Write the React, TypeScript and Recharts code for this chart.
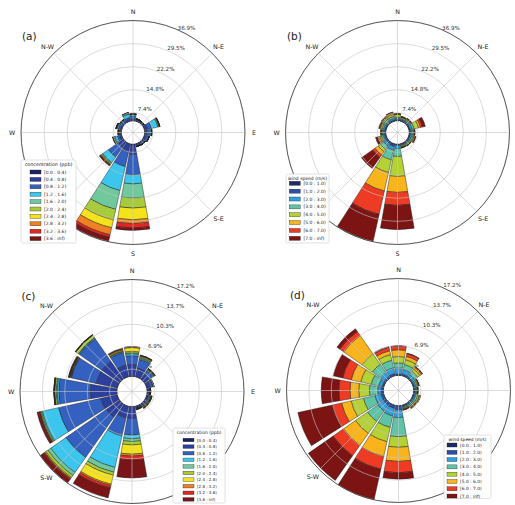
import React from 'react';
import {
  RadialBarChart,
  RadialBar,
  PolarAngleAxis,
  PolarRadiusAxis,
  PolarGrid,
} from 'recharts';

const FONT = '"DejaVu Sans", Verdana, sans-serif';

// Sixteen compass sectors, clockwise from north
const directions = ['N', 'NNE', 'NE', 'ENE', 'E', 'ESE', 'SE', 'SSE', 'S', 'SSW', 'SW', 'WSW', 'W', 'WNW', 'NW', 'NNW'];
const compassNames: Record<string, string> = {
  N: 'N', NE: 'N-E', E: 'E', SE: 'S-E', S: 'S', SW: 'S-W', W: 'W', NW: 'N-W',
};

const concentrationBins = ['[0.0 : 0.4)', '[0.4 : 0.8)', '[0.8 : 1.2)', '[1.2 : 1.6)', '[1.6 : 2.0)', '[2.0 : 2.4)', '[2.4 : 2.8)', '[2.8 : 3.2)', '[3.2 : 3.6)', '[3.6 : inf)'];
const concentrationColors = ['#1b2264', '#2c3f9e', '#3461bf', '#3cc6ee', '#70c89c', '#a8cb3b', '#f4e31c', '#ef8023', '#e42522', '#7a1517'];
const windSpeedBins = ['[0.0 : 1.0)', '[1.0 : 2.0)', '[2.0 : 3.0)', '[3.0 : 4.0)', '[4.0 : 5.0)', '[5.0 : 6.0)', '[6.0 : 7.0)', '[7.0 : inf)'];
const windSpeedColors = ['#1c2a6c', '#2d4ea8', '#2ea0df', '#5fc4a6', '#b4d234', '#f8b41a', '#ee3b24', '#7c1414'];

// Frequency (%) of each class, one row per direction in `directions` order
const concentrationFreqA = [
  [0.10, 0.64, 0.87, 0.48, 0.10, 0.05, 0.03, 0.02, 0.02, 0.03],
  [0.06, 0.32, 0.26, 0.10, 0.03, 0.02, 0.01, 0.01, 0.01, 0.01],
  [0.06, 0.26, 0.19, 0.06, 0.03, 0.02, 0.01, 0.01, 0.01, 0.01],
  [0.16, 0.96, 1.28, 2.08, 0.32, 0.16, 0.10, 0.03, 0.03, 0.03],
  [0.10, 0.64, 0.87, 0.48, 0.16, 0.06, 0.03, 0.02, 0.02, 0.02],
  [0.10, 0.50, 0.60, 0.30, 0.08, 0.03, 0.02, 0.01, 0.01, 0.01],
  [0.08, 0.40, 0.45, 0.12, 0.04, 0.02, 0.01, 0.01, 0.01, 0.01],
  [0.08, 0.40, 0.35, 0.08, 0.02, 0.01, 0.01, 0.01, 0.01, 0.01],
  [0.32, 3.04, 6.57, 2.88, 4.58, 3.20, 3.75, 1.28, 1.38, 0.77],
  [0.22, 2.50, 4.81, 7.88, 6.22, 3.43, 2.60, 2.31, 0.80, 1.44],
  [0.16, 1.92, 3.85, 2.24, 0.32, 0.32, 0.16, 0.16, 0.10, 0.22],
  [0.10, 0.70, 0.64, 0.80, 0.32, 0.16, 0.10, 0.06, 0.06, 0.10],
  [0.10, 0.32, 0.32, 0.16, 0.06, 0.05, 0.03, 0.02, 0.02, 0.03],
  [0.06, 0.48, 0.64, 0.38, 0.16, 0.10, 0.06, 0.03, 0.03, 0.06],
  [0.06, 0.40, 0.50, 0.25, 0.10, 0.06, 0.04, 0.02, 0.02, 0.04],
  [0.10, 0.64, 0.48, 1.12, 0.22, 0.16, 0.06, 0.03, 0.03, 0.06],
];

const windSpeedFreqB = [
  [0.22, 0.26, 0.32, 0.48, 0.80, 0.16, 0.10, 0.06],
  [0.16, 0.26, 0.22, 0.32, 0.32, 0.16, 0.10, 0.06],
  [0.16, 0.32, 0.32, 0.32, 0.32, 0.16, 0.16, 0.10],
  [0.16, 0.32, 0.64, 0.64, 1.44, 0.64, 0.64, 0.96],
  [0.16, 0.32, 0.32, 0.48, 0.32, 0.16, 0.10, 0.06],
  [0.16, 0.32, 0.48, 0.48, 0.32, 0.32, 0.16, 0.10],
  [0.16, 0.26, 0.22, 0.32, 0.32, 0.16, 0.13, 0.06],
  [0.16, 0.26, 0.22, 0.32, 0.22, 0.13, 0.10, 0.03],
  [0.16, 0.32, 0.96, 2.56, 6.41, 5.13, 4.17, 7.79],
  [0.32, 0.64, 1.12, 3.21, 4.17, 6.09, 7.69, 8.97],
  [0.16, 0.48, 0.96, 1.28, 0.96, 1.28, 0.96, 4.33],
  [0.16, 0.32, 0.48, 0.64, 0.48, 0.48, 0.32, 0.64],
  [0.16, 0.32, 0.32, 0.32, 0.22, 0.16, 0.13, 0.13],
  [0.16, 0.32, 0.48, 0.48, 0.48, 0.26, 0.16, 0.13],
  [0.16, 0.32, 0.48, 0.64, 0.48, 0.32, 0.19, 0.13],
  [0.16, 0.32, 0.48, 0.64, 0.64, 0.42, 0.26, 0.13],
];

const concentrationFreqC = [
  [0.07, 1.79, 1.34, 0.30, 0.15, 0.22, 0.57, 0.07, 0.04, 0.03],
  [0.07, 1.34, 1.34, 0.15, 0.15, 0.15, 0.10, 0.07, 0.03, 0.03],
  [0.07, 0.90, 0.60, 0.15, 0.09, 0.09, 0.06, 0.03, 0.03, 0.03],
  [0.07, 0.52, 0.37, 0.07, 0.04, 0.04, 0.03, 0.01, 0.01, 0.01],
  [0.07, 0.22, 0.15, 0.04, 0.03, 0.03, 0.01, 0.01, 0.01, 0.01],
  [0.07, 0.22, 0.15, 0.12, 0.10, 0.07, 0.04, 0.03, 0.04, 0.03],
  [0.07, 0.22, 0.15, 0.07, 0.07, 0.07, 0.06, 0.06, 0.07, 0.04],
  [0.07, 0.15, 0.12, 0.04, 0.04, 0.03, 0.03, 0.03, 0.04, 0.03],
  [0.07, 1.79, 2.54, 0.55, 0.42, 0.52, 1.42, 0.30, 0.60, 2.76],
  [0.07, 1.79, 2.84, 4.93, 0.75, 0.45, 1.42, 0.22, 0.37, 1.57],
  [0.07, 2.45, 7.53, 2.82, 0.55, 0.39, 0.15, 0.09, 0.15, 0.66],
  [0.07, 2.54, 6.63, 2.52, 0.18, 0.15, 0.07, 0.04, 0.10, 0.30],
  [0.07, 4.03, 4.83, 0.25, 0.15, 0.22, 0.07, 0.03, 0.03, 0.03],
  [0.07, 3.29, 3.88, 0.07, 0.07, 0.07, 0.07, 0.04, 0.04, 0.13],
  [0.07, 3.29, 4.18, 0.15, 0.07, 0.45, 0.07, 0.01, 0.01, 0.03],
  [0.07, 1.79, 1.94, 0.15, 0.07, 0.07, 0.15, 0.12, 0.07, 0.06],
];

const windSpeedFreqD = [
  [0.10, 0.12, 0.97, 0.75, 0.97, 1.04, 0.57, 0.06],
  [0.07, 0.22, 0.75, 0.75, 0.75, 0.52, 0.45, 0.07],
  [0.07, 0.15, 0.45, 0.60, 0.45, 0.30, 0.15, 0.04],
  [0.07, 0.15, 0.22, 0.22, 0.15, 0.10, 0.04, 0.03],
  [0.07, 0.15, 0.15, 0.15, 0.09, 0.06, 0.03, 0.01],
  [0.07, 0.15, 0.22, 0.30, 0.22, 0.12, 0.07, 0.04],
  [0.07, 0.15, 0.22, 0.22, 0.18, 0.12, 0.09, 0.06],
  [0.07, 0.15, 0.15, 0.15, 0.12, 0.07, 0.06, 0.04],
  [0.15, 0.49, 1.22, 2.91, 1.64, 2.16, 1.74, 0.98],
  [0.07, 0.45, 1.19, 1.79, 2.24, 2.31, 2.01, 4.80],
  [0.07, 0.37, 1.12, 1.94, 2.24, 2.24, 1.94, 4.62],
  [0.07, 0.37, 0.97, 1.79, 1.94, 1.49, 1.42, 5.44],
  [0.07, 0.30, 0.52, 1.27, 1.64, 1.34, 1.71, 2.71],
  [0.07, 0.22, 0.52, 1.19, 1.64, 1.49, 1.34, 1.49],
  [0.07, 0.22, 0.82, 1.49, 1.94, 3.43, 0.75, 0.52],
  [0.07, 0.30, 0.89, 1.19, 0.89, 0.60, 0.52, 0.15],
];

// Radial scale of the upper and lower roses: lower bound, outer limit, and the
// calm offset at which every sector starts (the empty disc in the middle)
const radialMinAB = 1.0;
const radialMaxAB = 36.93;
const calmOffsetAB = 4.72;
const radialMinCD = 0.465;
const radialMaxCD = 17.16;
const calmOffsetCD = 2.3;

const OUTER_R = 112;
const HALF_SECTOR = 11.25;

function buildRows(freq: number[][], calm: number) {
  return directions.map((dir, i) => {
    const row: Record<string, number | string> = { dir, calm };
    freq[i].forEach((v, j) => {
      row[`c${j}`] = v;
    });
    return row;
  });
}

// Category ticks sit on the sector edge; turn each label half a sector
// anticlockwise so it lands on the sector centre.
function makeCompassTick(cx: number, cy: number) {
  const t = (HALF_SECTOR * Math.PI) / 180;
  return (props: any) => {
    const { x, y, payload } = props;
    const label = compassNames[payload?.value];
    if (!label) return <g />;
    const dx = x - cx;
    const dy = y - cy;
    const px = cx + dx * Math.cos(t) + dy * Math.sin(t);
    const py = cy - dx * Math.sin(t) + dy * Math.cos(t);
    return (
      <text x={px} y={py} textAnchor="middle" dominantBaseline="central" fontSize={6.3} fill="#222" fontFamily={FONT}>
        {label}
      </text>
    );
  };
}

const RING_ANGLE = 63;
const RingTick = (props: any) => {
  const { x, y, payload } = props;
  const a = (RING_ANGLE * Math.PI) / 180;
  return (
    <text
      x={x + 6 * Math.cos(a)}
      y={y - 6 * Math.sin(a)}
      textAnchor="middle"
      dominantBaseline="central"
      fontSize={5.6}
      fill="#333"
      fontFamily={FONT}
    >
      {`${Number(payload.value).toFixed(1)}%`}
    </text>
  );
};

type RoseProps = {
  left: number;
  top: number;
  width: number;
  height: number;
  cx: number;
  cy: number;
  freq: number[][];
  calm: number;
  colors: string[];
  rMin: number;
  rMax: number;
};

function WindRose({ left, top, width, height, cx, cy, freq, calm, colors, rMin, rMax }: RoseProps) {
  const rows = buildRows(freq, calm);
  const ticks = [1, 2, 3, 4, 5].map((i) => (rMax * i) / 5);
  const CompassTick = makeCompassTick(cx, cy);
  return (
    <div style={{ position: 'absolute', left, top, width, height }}>
      <RadialBarChart
        width={width}
        height={height}
        cx={cx}
        cy={cy}
        data={rows}
        layout="centric"
        innerRadius={0}
        outerRadius={OUTER_R}
        startAngle={90 - HALF_SECTOR}
        endAngle={-270 - HALF_SECTOR}
        barCategoryGap="5%"
        margin={{ top: 0, right: 0, bottom: 0, left: 0 }}
      >
        <PolarRadiusAxis
          type="number"
          domain={[rMin, rMax]}
          allowDataOverflow
          ticks={ticks}
          angle={RING_ANGLE}
          axisLine={false}
          tickLine={false}
          tick={<RingTick />}
          zIndex={100}
        />
        <RadialBar dataKey="calm" stackId="f" fill="none" stroke="none" isAnimationActive={false} />
        {colors.map((c, j) => (
          <RadialBar
            key={j}
            dataKey={`c${j}`}
            stackId="f"
            fill={c}
            stroke="#1e1e1e"
            strokeWidth={0.45}
            isAnimationActive={false}
          />
        ))}
        <PolarGrid
          gridType="circle"
          polarAngles={[90, 45, 0, -45, -90, -135, 180, 135]}
          stroke="#c4c4c4"
          strokeWidth={0.6}
          zIndex={350}
        />
        <PolarAngleAxis
          type="category"
          dataKey="dir"
          axisLineType="circle"
          axisLine={{ stroke: '#3a3a3a', strokeWidth: 0.8 }}
          tickLine={false}
          tickSize={9}
          tick={CompassTick}
          zIndex={500}
        />
      </RadialBarChart>
    </div>
  );
}

type LegendProps = {
  x: number;
  y: number;
  w: number;
  h: number;
  title: string;
  labels: string[];
  colors: string[];
  titleY: number;
  rowY: number;
  rowStep: number;
  swatchX: number;
  swatchW: number;
  swatchH: number;
  textX: number;
  titleSize: number;
  textSize: number;
};

function LegendBox(p: LegendProps) {
  return (
    <g>
      <rect x={p.x} y={p.y} width={p.w} height={p.h} rx={1.5} fill="#ffffff" stroke="#cfcfcf" strokeWidth={0.6} />
      <text x={p.x + p.w / 2} y={p.titleY} textAnchor="middle" dominantBaseline="central" fontSize={p.titleSize} fill="#222" fontFamily={FONT}>
        {p.title}
      </text>
      {p.labels.map((lab, i) => {
        const cy = p.rowY + i * p.rowStep;
        return (
          <g key={lab}>
            <rect x={p.swatchX} y={cy - p.swatchH / 2} width={p.swatchW} height={p.swatchH} fill={p.colors[i]} stroke="#222" strokeWidth={0.35} />
            <text x={p.textX} y={cy} dominantBaseline="central" fontSize={p.textSize} fill="#222" fontFamily={FONT}>
              {lab}
            </text>
          </g>
        );
      })}
    </g>
  );
}

export default function App() {
  return (
    <div style={{ position: 'absolute', left: 0, top: 0, width: 515, height: 505, background: '#ffffff', overflow: 'hidden' }}>
      <WindRose left={0} top={0} width={258} height={262} cx={133} cy={132.5} freq={concentrationFreqA} calm={calmOffsetAB} colors={concentrationColors} rMin={radialMinAB} rMax={radialMaxAB} />
      <WindRose left={258} top={0} width={257} height={262} cx={139.5} cy={132.5} freq={windSpeedFreqB} calm={calmOffsetAB} colors={windSpeedColors} rMin={radialMinAB} rMax={radialMaxAB} />
      <WindRose left={0} top={250} width={258} height={255} cx={132} cy={141.5} freq={concentrationFreqC} calm={calmOffsetCD} colors={concentrationColors} rMin={radialMinCD} rMax={radialMaxCD} />
      <WindRose left={258} top={250} width={257} height={255} cx={140.5} cy={140.5} freq={windSpeedFreqD} calm={calmOffsetCD} colors={windSpeedColors} rMin={radialMinCD} rMax={radialMaxCD} />

      <svg width={515} height={505} style={{ position: 'absolute', left: 0, top: 0, pointerEvents: 'none' }}>
        <g fontFamily={FONT} fontSize={10.5} fill="#222">
          <text x={22} y={40}>(a)</text>
          <text x={287} y={40}>(b)</text>
          <text x={21.5} y={299.5}>(c)</text>
          <text x={290} y={298.5}>(d)</text>
        </g>
        <LegendBox x={21} y={160} w={55} h={83} title="concentration (ppb)" labels={concentrationBins} colors={concentrationColors}
          titleY={164.5} rowY={172} rowStep={7.4} swatchX={30} swatchW={11} swatchH={4} textX={44} titleSize={4.8} textSize={4.5} />
        <LegendBox x={286} y={174} w={43} h={69} title="wind speed (m/s)" labels={windSpeedBins} colors={windSpeedColors}
          titleY={178.5} rowY={183.3} rowStep={7.86} swatchX={289.3} swatchW={11} swatchH={4} textX={303.5} titleSize={4.5} textSize={4.5} />
        <LegendBox x={173} y={428} w={52} h={75} title="concentration (ppb)" labels={concentrationBins} colors={concentrationColors}
          titleY={432.3} rowY={440} rowStep={6.6} swatchX={183} swatchW={11} swatchH={3.5} textX={197} titleSize={4.5} textSize={4.0} />
        <LegendBox x={444} y={435} w={47} h={63.5} title="wind speed (m/s)" labels={windSpeedBins} colors={windSpeedColors}
          titleY={439} rowY={445} rowStep={7.29} swatchX={447} swatchW={10} swatchH={4} textX={460} titleSize={4.4} textSize={4.4} />
      </svg>
    </div>
  );
}
